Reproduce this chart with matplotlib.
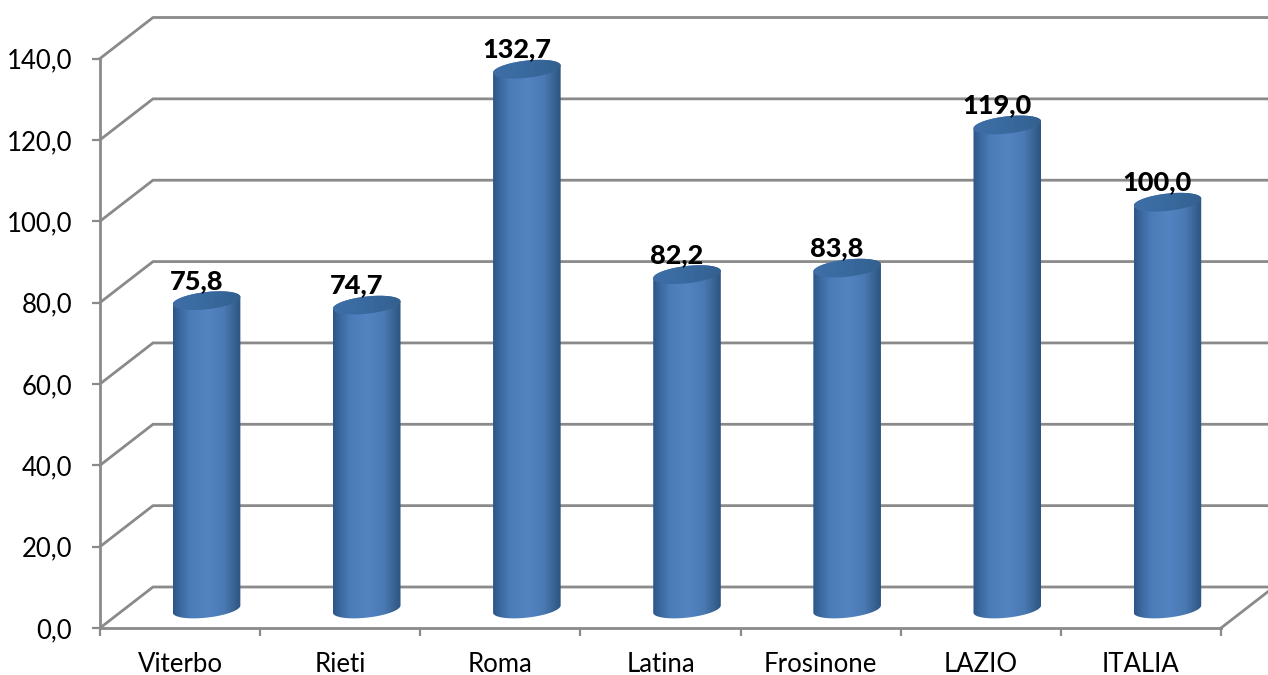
import matplotlib.colors
import matplotlib.patches
import matplotlib.pyplot
import numpy

categories = ["Viterbo", "Rieti", "Roma", "Latina", "Frosinone", "LAZIO", "ITALIA"]
values = [75.8, 74.7, 132.7, 82.2, 83.8, 119.0, 100.0]
value_labels = ["75,8", "74,7", "132,7", "82,2", "83,8", "119,0", "100,0"]
y_ticks = [0, 20, 40, 60, 80, 100, 120, 140]
y_tick_labels = ["0,0", "20,0", "40,0", "60,0", "80,0", "100,0", "120,0", "140,0"]

FIG_W = 1268
FIG_H = 675
AX_LEFT = 100
AX_RIGHT = 1221
AX_BOTTOM = 628
AX_TOP = 58.5
GRID = "#8a8a8a"

matplotlib.pyplot.rcParams["font.family"] = ["Lato", "DejaVu Sans"]

figure = matplotlib.pyplot.figure(figsize = (FIG_W / 100, FIG_H / 100), dpi = 100)
axes = figure.add_axes([
	AX_LEFT / FIG_W,
	(FIG_H - AX_BOTTOM) / FIG_H,
	(AX_RIGHT - AX_LEFT) / FIG_W,
	(AX_BOTTOM - AX_TOP) / FIG_H,
])
axes.set_xlim(0, len(categories))
axes.set_ylim(0, 140)

# pixels per data unit, so depth and cylinder sizes can be given in pixels
sx = (AX_RIGHT - AX_LEFT) / len(categories)
sy = (AX_BOTTOM - AX_TOP) / 140
depth_x = 53 / sx
depth_y = 41 / sy

for spine in ("top", "right"):
	axes.spines[spine].set_visible(False)
for spine in ("left", "bottom"):
	axes.spines[spine].set_color(GRID)
	axes.spines[spine].set_linewidth(2.0)

axes.set_yticks(y_ticks)
axes.set_yticklabels(y_tick_labels, fontsize = 18.5, color = "black")
axes.tick_params(axis = "y", length = 6, width = 1.6, color = GRID, pad = 14)
axes.set_xticks(numpy.arange(len(categories) + 1))
axes.set_xticklabels([])
axes.tick_params(axis = "x", which = "major", length = 6, width = 1.6, color = GRID)
axes.set_xticks(numpy.arange(len(categories)) + 0.5, minor = True)
axes.set_xticklabels(categories, minor = True, fontsize = 18.5)
axes.tick_params(axis = "x", which = "minor", length = 0, pad = 17.5)

# back wall gridlines and the diagonals joining them to the front axis
for tick in y_ticks:
	axes.plot(
		[0, depth_x, len(categories) + depth_x * 1.2],
		[tick, tick + depth_y, tick + depth_y],
		color = GRID, linewidth = 2.0, clip_on = False, zorder = 1, solid_joinstyle = "miter",
	)
axes.plot(
	[len(categories), len(categories) + depth_x],
	[0, depth_y],
	color = GRID, linewidth = 2.0, clip_on = False, zorder = 1,
)

cmap_body = matplotlib.colors.LinearSegmentedColormap.from_list("body", [
	(0.00, "#2e5584"),
	(0.08, "#38649a"),
	(0.25, "#4a7cb8"),
	(0.50, "#5384c2"),
	(0.75, "#4a7ab4"),
	(0.92, "#37608f"),
	(1.00, "#2e5480"),
])
cmap_cap = matplotlib.colors.LinearSegmentedColormap.from_list("cap", [
	(0.00, "#3d6ea6"),
	(0.50, "#396a9f"),
	(1.00, "#33608f"),
])
ramp = numpy.linspace(0, 1, 256).reshape(1, -1)

half_w = 34.0
half_h = 8.6
tilt = numpy.radians(6.5)
base_offset = 19.0
# parameter where the tilted ellipse reaches its rightmost point
start = numpy.arctan2(-half_h * numpy.sin(tilt), half_w * numpy.cos(tilt))


def ellipse(angle):
	ex = half_w * numpy.cos(angle) * numpy.cos(tilt) - half_h * numpy.sin(angle) * numpy.sin(tilt)
	ey = half_w * numpy.cos(angle) * numpy.sin(tilt) + half_h * numpy.sin(angle) * numpy.cos(tilt)
	return ex / sx, ey / sy


def draw_cylinder(center, value, label):
	cx = center + depth_x / 2
	base = base_offset / sy
	top = value + base
	upper_x, upper_y = ellipse(numpy.linspace(start, start + numpy.pi, 60))
	lower_x, lower_y = ellipse(numpy.linspace(start + numpy.pi, start + 2 * numpy.pi, 60))
	width = upper_x[0]

	# side of the cylinder: upper arc at the top, lower arc at the base
	body = matplotlib.patches.Polygon(
		numpy.column_stack([
			cx + numpy.concatenate([upper_x, lower_x]),
			numpy.concatenate([top + upper_y, base + lower_y]),
		]),
		closed = True, transform = axes.transData, facecolor = "none", edgecolor = "none",
	)
	axes.add_patch(body)
	image = axes.imshow(
		ramp, cmap = cmap_body, aspect = "auto", zorder = 3, vmin = 0, vmax = 1,
		extent = [cx - width, cx + width, base - 4, top + 4],
	)
	image.set_clip_path(body)

	cap = matplotlib.patches.Polygon(
		numpy.column_stack([
			cx + numpy.concatenate([upper_x, lower_x]),
			top + numpy.concatenate([upper_y, lower_y]),
		]),
		closed = True, transform = axes.transData, facecolor = "none", edgecolor = "none",
	)
	axes.add_patch(cap)
	cap_image = axes.imshow(
		ramp, cmap = cmap_cap, aspect = "auto", zorder = 4, vmin = 0, vmax = 1,
		extent = [cx - width, cx + width, top - 4, top + 4],
	)
	cap_image.set_clip_path(cap)

	axes.text(
		cx - 10 / sx, top + 20 / sy, label, ha = "center", va = "center",
		fontsize = 19.5, fontweight = "black", color = "black", zorder = 5,
	)


for index in range(len(categories)):
	draw_cylinder(index + 0.5, values[index], value_labels[index])

axes.set_xlim(0, len(categories))
axes.set_ylim(0, 140)
figure.savefig("out.png", dpi = 100)
